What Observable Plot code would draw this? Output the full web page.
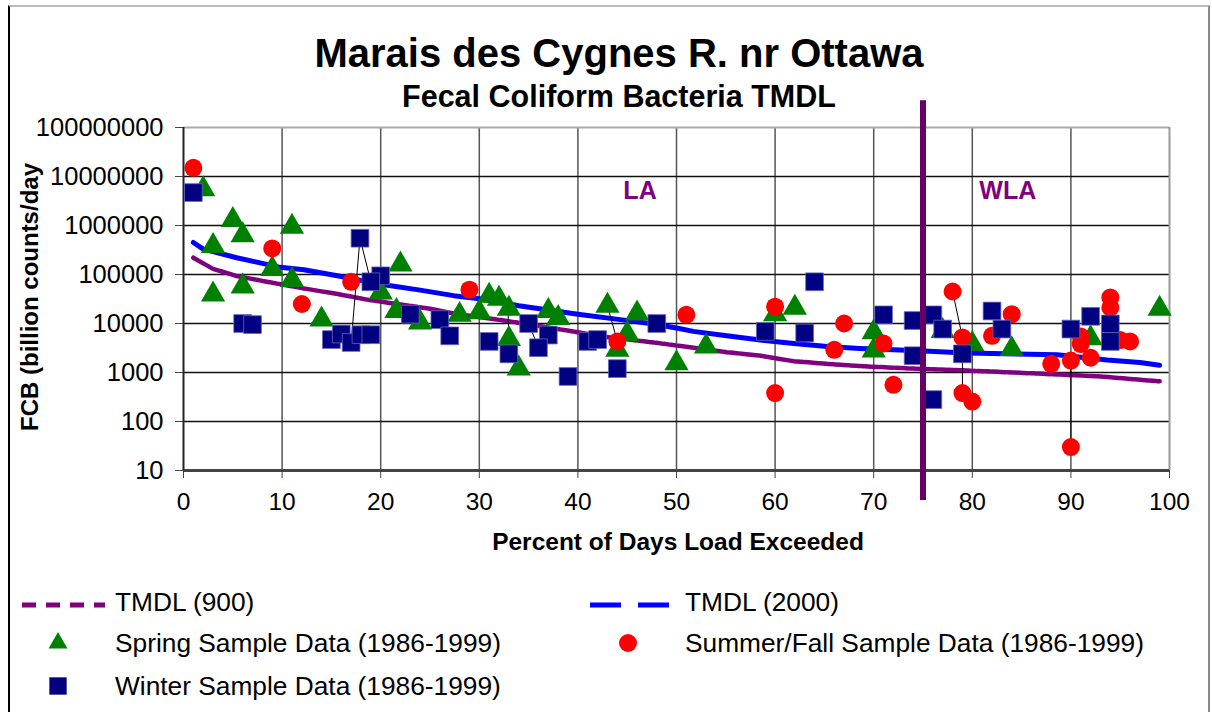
<!DOCTYPE html>
<html>
<head>
<meta charset="utf-8">
<script src="https://cdn.jsdelivr.net/npm/d3@7"></script>
<script src="https://cdn.jsdelivr.net/npm/@observablehq/plot@0.6"></script>
<style>
  html, body { margin: 0; padding: 0; background: #fff; }
  body { font-family: "Liberation Sans", Arial, sans-serif; color: #000; }
  #wrap { position: relative; width: 1212px; height: 712px; overflow: hidden; }
  #frame { position: absolute; left: 8px; top: 5px; width: 1198px; height: 720px; border-left: 2px solid #000; border-top: 2px solid #bbb; border-right: 2px solid #888; }
  #chart { position: absolute; left: 0; top: 0; }
  .t { position: absolute; white-space: nowrap; line-height: 1; }
  .title { font-size: 40px; font-weight: bold; left: 619px; top: 33px; transform: translateX(-50%); }
  .subtitle { font-size: 30.5px; font-weight: bold; left: 619px; top: 81px; transform: translateX(-50%); }
  .xlabel { font-size: 24.5px; font-weight: bold; left: 678px; top: 530px; transform: translateX(-50%); }
  .ylabel { font-size: 24px; font-weight: bold; left: 30px; top: 297px; transform: translate(-50%, -50%) rotate(-90deg); }
  .leg { font-size: 26.3px; }
</style>
</head>
<body>
<div id="wrap">
  <div id="frame"></div>
  <div id="chart"></div>
  <div class="t title">Marais des Cygnes R. nr Ottawa</div>
  <div class="t subtitle">Fecal Coliform Bacteria TMDL</div>
  <div class="t xlabel">Percent of Days Load Exceeded</div>
  <div class="t ylabel">FCB (billion counts/day</div>
  <div id="legend"></div>
</div>
<script>
// ---------- data ----------
const xTicks = [0, 10, 20, 30, 40, 50, 60, 70, 80, 90, 100];
const yTicks = [10, 100, 1000, 10000, 100000, 1000000, 10000000, 100000000];

const tmdl900 = [
  {x: 1, y: 2.2e5}, {x: 3, y: 1.3e5}, {x: 5.4, y: 9.3e4}, {x: 8.8, y: 6.9e4},
  {x: 12.2, y: 5.2e4}, {x: 15.6, y: 4.0e4}, {x: 18.9, y: 3.0e4}, {x: 22.3, y: 2.4e4},
  {x: 25, y: 2.0e4}, {x: 27.4, y: 1.6e4}, {x: 32.5, y: 1.15e4}, {x: 37.5, y: 8.0e3},
  {x: 42.6, y: 5.4e3}, {x: 47.7, y: 4.1e3}, {x: 51.7, y: 3.2e3}, {x: 55.1, y: 2.6e3},
  {x: 58.5, y: 2.2e3}, {x: 61.9, y: 1.7e3}, {x: 65.3, y: 1.5e3}, {x: 68.6, y: 1.35e3},
  {x: 74, y: 1.2e3}, {x: 79.4, y: 1.1e3}, {x: 86.2, y: 960}, {x: 93, y: 830}, {x: 99, y: 660}
];

const tmdl2000 = [
  {x: 1, y: 4.5e5}, {x: 2, y: 3.3e5}, {x: 5.4, y: 2.2e5}, {x: 9.8, y: 1.4e5},
  {x: 12.2, y: 1.25e5}, {x: 15.6, y: 9.4e4}, {x: 20, y: 6.3e4}, {x: 24, y: 4.8e4},
  {x: 27.4, y: 3.7e4}, {x: 30, y: 3.2e4}, {x: 34, y: 2.3e4}, {x: 40, y: 1.55e4},
  {x: 44.3, y: 1.2e4}, {x: 47.7, y: 9.8e3}, {x: 50.4, y: 7.8e3}, {x: 51.7, y: 6.9e3},
  {x: 55.1, y: 5.6e3}, {x: 58.5, y: 4.6e3}, {x: 61.9, y: 3.9e3}, {x: 65.3, y: 3.4e3},
  {x: 68.6, y: 3.1e3}, {x: 74, y: 2.8e3}, {x: 79.4, y: 2.5e3}, {x: 88.6, y: 2.3e3},
  {x: 93.7, y: 1.8e3}, {x: 97, y: 1.6e3}, {x: 99, y: 1.4e3}
];

const spring = [
  {x: 2, y: 5.5e6}, {x: 5, y: 1.3e6}, {x: 6, y: 6.3e5}, {x: 11, y: 9.4e5},
  {x: 3, y: 3.8e5}, {x: 9, y: 1.3e5}, {x: 11, y: 7.7e4}, {x: 6, y: 5.7e4},
  {x: 3, y: 3.9e4}, {x: 22, y: 1.6e5}, {x: 14, y: 1.2e4}, {x: 20, y: 4.3e4},
  {x: 21.6, y: 1.8e4}, {x: 24, y: 1.05e4}, {x: 28, y: 1.5e4}, {x: 30, y: 1.7e4},
  {x: 31, y: 3.7e4}, {x: 32, y: 3.2e4}, {x: 33, y: 2.0e4}, {x: 33, y: 4.8e3},
  {x: 34, y: 1.2e3}, {x: 37, y: 1.8e4}, {x: 38, y: 1.3e4}, {x: 43, y: 2.3e4},
  {x: 46, y: 1.6e4}, {x: 45, y: 6.1e3}, {x: 44, y: 2.9e3}, {x: 50, y: 1.55e3},
  {x: 53, y: 3.4e3}, {x: 60, y: 1.55e4}, {x: 62, y: 2.1e4}, {x: 70, y: 6.6e3},
  {x: 70, y: 2.8e3}, {x: 77, y: 7.0e3}, {x: 80, y: 3.8e3}, {x: 84, y: 3.0e3},
  {x: 92, y: 5.0e3}, {x: 99, y: 2.0e4}
];

const summerFall = [
  {x: 1, y: 1.5e7}, {x: 9, y: 3.4e5}, {x: 17, y: 7.1e4}, {x: 12, y: 2.5e4},
  {x: 29, y: 4.9e4}, {x: 44, y: 4.3e3}, {x: 51, y: 1.5e4}, {x: 60, y: 2.2e4},
  {x: 60, y: 380}, {x: 67, y: 1.0e4}, {x: 66, y: 2.9e3}, {x: 71, y: 3.9e3},
  {x: 72, y: 560}, {x: 78, y: 4.5e4}, {x: 84, y: 1.55e4}, {x: 94, y: 3.4e4},
  {x: 94, y: 2.1e4}, {x: 79, y: 5.2e3}, {x: 82, y: 5.6e3}, {x: 79, y: 380},
  {x: 80, y: 255}, {x: 88, y: 1.5e3}, {x: 90, y: 1.75e3}, {x: 90, y: 30},
  {x: 91, y: 5.4e3}, {x: 91, y: 3.8e3}, {x: 92, y: 2.0e3}, {x: 95, y: 4.6e3},
  {x: 96, y: 4.3e3}
];

const winter = [
  {x: 1, y: 4.7e6}, {x: 17.9, y: 5.5e5}, {x: 20, y: 9.4e4}, {x: 19, y: 7.1e4},
  {x: 23, y: 1.55e4}, {x: 6, y: 1.0e4}, {x: 7, y: 9.5e3}, {x: 15, y: 4.7e3},
  {x: 16, y: 6.1e3}, {x: 17, y: 4.1e3}, {x: 18, y: 5.9e3}, {x: 19, y: 5.9e3},
  {x: 26, y: 1.2e4}, {x: 27, y: 5.6e3}, {x: 31, y: 4.3e3}, {x: 33, y: 2.4e3},
  {x: 35, y: 1.0e4}, {x: 37, y: 5.8e3}, {x: 36, y: 3.2e3}, {x: 39, y: 830},
  {x: 41, y: 4.3e3}, {x: 42, y: 4.7e3}, {x: 44, y: 1.2e3}, {x: 48, y: 1.0e4},
  {x: 64, y: 7.1e4}, {x: 59, y: 6.9e3}, {x: 63, y: 6.4e3}, {x: 71, y: 1.5e4},
  {x: 74, y: 1.15e4}, {x: 74, y: 2.2e3}, {x: 76, y: 1.5e4}, {x: 77, y: 7.7e3},
  {x: 76, y: 280}, {x: 79, y: 2.4e3}, {x: 82, y: 1.8e4}, {x: 83, y: 7.7e3},
  {x: 90, y: 7.7e3}, {x: 92, y: 1.4e4}, {x: 94, y: 9.8e3}, {x: 94, y: 4.3e3}
];

const leaders = [
  {x1: 17.9, y1: 5.5e5, x2: 17, y2: 4.1e3},
  {x1: 17.9, y1: 5.5e5, x2: 19, y2: 7.1e4},
  {x1: 32.9, y1: 2.1e4, x2: 33, y2: 4.8e3},
  {x1: 35, y1: 1.0e4, x2: 36, y2: 3.2e3},
  {x1: 43, y1: 2.3e4, x2: 44, y2: 4.3e3},
  {x1: 78, y1: 4.5e4, x2: 79, y2: 5.2e3},
  {x1: 79, y1: 2.4e3, x2: 79, y2: 380},
  {x1: 90, y1: 1.75e3, x2: 90, y2: 30}
];

const boundary = [{x: 75, top: 3.5e8, bottom: 2.45}];
const zoneLabels = [{x: 46.3, y: 5.1e6, text: "LA"}, {x: 83.6, y: 5.1e6, text: "WLA"}];

// ---------- chart ----------
const gridX = xTicks.filter(d => d > 0 && d < 100);
const gridY = yTicks.filter(d => d > 10 && d < 1e8);

const chart = Plot.plot({
  width: 1212,
  height: 560,
  marginLeft: 183,
  marginRight: 43,
  marginTop: 127,
  marginBottom: 90,
  style: {fontFamily: "'Liberation Sans', Arial, sans-serif", fontSize: "25px", color: "#000", background: "transparent", overflow: "visible"},
  x: {domain: [0, 100]},
  y: {type: "log", domain: [10, 1e8]},
  marks: [
    Plot.ruleX(gridX, {stroke: "#555", strokeWidth: 1.5}),
    Plot.ruleY(gridY, {stroke: "#111", strokeWidth: 1.5}),
    Plot.ruleY([1e8], {stroke: "#aaa", strokeWidth: 2}),
    Plot.ruleX([100], {stroke: "#999", strokeWidth: 2}),
    Plot.ruleY([10], {stroke: "#444", strokeWidth: 3}),
    Plot.ruleX([0], {stroke: "#222", strokeWidth: 2}),
    Plot.axisX(xTicks, {tickSize: 8, tickPadding: 14, label: null, fontSize: 24.5, stroke: "#444"}),
    Plot.axisY(yTicks, {tickSize: 8, tickPadding: 12, label: null, fontSize: 25.5, tickFormat: d => d3.format("d")(d), stroke: "#444"}),
    Plot.line(tmdl900, {x: "x", y: "y", stroke: "#800080", strokeWidth: 4.5, strokeDasharray: "6,1.5"}),
    Plot.line(tmdl2000, {x: "x", y: "y", stroke: "#0000ff", strokeWidth: 5}),
    Plot.link(leaders, {x1: "x1", y1: "y1", x2: "x2", y2: "y2", stroke: "#000", strokeWidth: 1}),
    Plot.dot(spring, {x: "x", y: "y", symbol: "triangle", fill: "#008000", r: 9}),
    Plot.dot(summerFall, {x: "x", y: "y", symbol: "circle", fill: "#ff0000", r: 9}),
    Plot.dot(winter, {x: "x", y: "y", symbol: "square", fill: "#000080", r: 10, stroke: "#6666bb", strokeWidth: 0.8}),
    Plot.ruleX(boundary, {x: "x", y1: "top", y2: "bottom", stroke: "#660066", strokeWidth: 6}),
    Plot.text(zoneLabels, {x: "x", y: "y", text: "text", fill: "#800080", fontWeight: "bold", fontSize: 25})
  ]
});
document.getElementById("chart").appendChild(chart);

// ---------- legend ----------
const legendItems = [
  {label: "TMDL (900)", kind: "dash900", sx: 22, tx: 115, cy: 602},
  {label: "TMDL (2000)", kind: "dash2000", sx: 590, tx: 685, cy: 602},
  {label: "Spring Sample Data (1986-1999)", kind: "triangle", sx: 58, tx: 115, cy: 643},
  {label: "Summer/Fall Sample Data (1986-1999)", kind: "circle", sx: 628, tx: 685, cy: 643},
  {label: "Winter Sample Data (1986-1999)", kind: "square", sx: 58, tx: 115, cy: 686}
];
const legend = d3.select("#legend");
const lsvg = legend.append("svg").attr("width", 1212).attr("height", 712)
  .style("position", "absolute").style("left", 0).style("top", 0).style("pointer-events", "none");
for (const it of legendItems) {
  if (it.kind === "dash900") {
    lsvg.append("line").attr("x1", it.sx).attr("x2", it.sx + 83).attr("y1", it.cy + 3).attr("y2", it.cy + 3)
      .attr("stroke", "#800080").attr("stroke-width", 5).attr("stroke-dasharray", "14,10");
  } else if (it.kind === "dash2000") {
    lsvg.append("line").attr("x1", it.sx).attr("x2", it.sx + 80).attr("y1", it.cy + 3).attr("y2", it.cy + 3)
      .attr("stroke", "#0000ff").attr("stroke-width", 5).attr("stroke-dasharray", "31,17");
  } else {
    const sym = {triangle: d3.symbolTriangle2, circle: d3.symbolCircle, square: d3.symbolSquare}[it.kind];
    const size = {triangle: 255, circle: 254, square: 300}[it.kind];
    const fill = {triangle: "#008000", circle: "#ff0000", square: "#000080"}[it.kind];
    lsvg.append("path").attr("d", d3.symbol(sym, size)()).attr("transform", `translate(${it.sx},${it.cy})`).attr("fill", fill);
  }
  legend.append("div").attr("class", "t leg").style("left", it.tx + "px").style("top", (it.cy - 13) + "px").text(it.label);
}
</script>
</body>
</html>
